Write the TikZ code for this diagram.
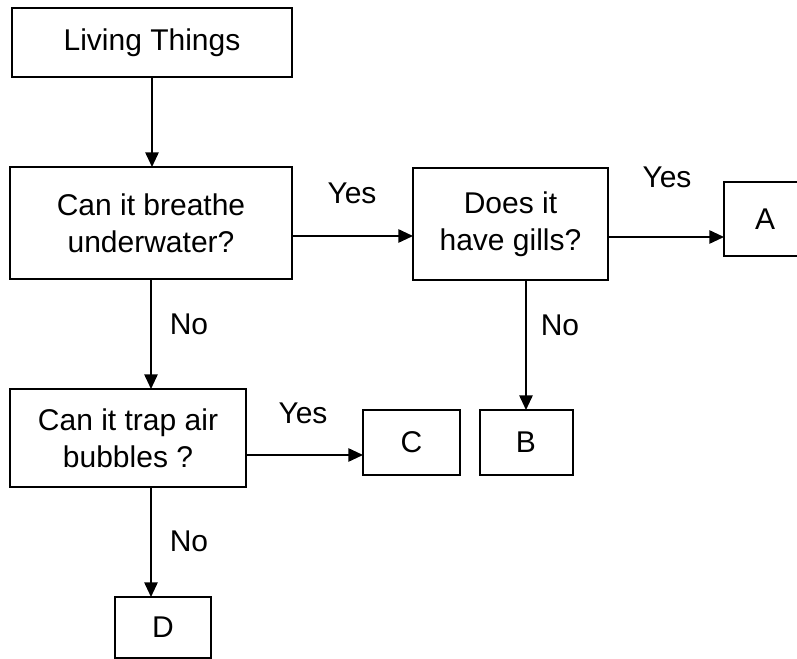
\documentclass[tikz,border=0pt]{standalone}
\usepackage{fontspec}
\setmainfont{Liberation Sans}
\usetikzlibrary{arrows.meta}

\begin{document}
\begin{tikzpicture}[x=0.75pt, y=-0.75pt,
    qbox/.style={draw, line width=1.5pt, align=center, inner sep=0pt, outer sep=0pt, font=\fontsize{22.5}{28}\selectfont},
    arr/.style={-{Triangle[length=11pt, width=10pt]}, line width=1.3pt},
    lbl/.style={font=\fontsize{22.5}{28}\selectfont, inner sep=0pt}
]
\useasboundingbox (0,0) rectangle (797,659);

\node[qbox, minimum width=210pt, minimum height=51.75pt] (living) at (152,42.5) {Living Things};
\node[qbox, minimum width=211.5pt, minimum height=84pt] (breathe) at (151,223) {Can it breathe\\underwater?};
\node[qbox, minimum width=146.25pt, minimum height=84pt] (gills) at (510.5,224) {Does it\\have gills?};
\node[qbox, minimum width=61.5pt, minimum height=55.5pt] (A) at (765,219) {A};
\node[qbox, minimum width=177pt, minimum height=73.5pt] (trap) at (128,438) {Can it trap air\\bubbles ?};
\node[qbox, minimum width=72.75pt, minimum height=48.75pt] (C) at (411.5,442.5) {C};
\node[qbox, minimum width=69.75pt, minimum height=48.75pt] (B) at (526,442.5) {B};
\node[qbox, minimum width=72pt, minimum height=45.75pt] (D) at (163,627.5) {D};

\node[lbl] (yes1) at (352,193) {Yes};
\node[lbl] (yes2) at (667,177) {Yes};
\node[lbl] (yes3) at (303,413) {Yes};
\node[lbl] (no1) at (189,324) {No};
\node[lbl] (no2) at (560,325) {No};
\node[lbl] (no3) at (189,541) {No};

\draw[arr] (living) -- (living |- breathe.north);
\draw[arr] ([yshift=-9.75pt]breathe.east) -- ([yshift=-9.75pt]breathe.east -| gills.west);
\draw[arr] ([yshift=-9.75pt]gills.east) -- ([yshift=-9.75pt]gills.east -| A.west);
\draw[arr] (breathe.south) -- (breathe.south |- trap.north);
\draw[arr] (gills.south -| B) -- (B.north);
\draw[arr] ([yshift=-12.75pt]trap.east) -- ([yshift=-12.75pt]trap.east -| C.west);
\draw[arr] (trap.south -| breathe.south) -- (D.north -| breathe.south);
\end{tikzpicture}
\end{document}
